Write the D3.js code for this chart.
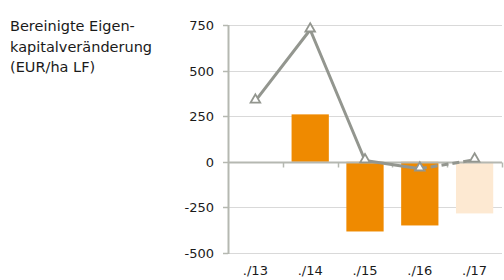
<!DOCTYPE html>
<html>
<head>
<meta charset="utf-8">
<script src="https://cdn.jsdelivr.net/npm/d3@7"></script>
<style>
  body { margin: 0; background: #fff; }
  svg { display: block; font-family: "DejaVu Sans", Verdana, sans-serif; }
</style>
</head>
<body>
<svg id="chart" width="504" height="280"></svg>
<script>
// data
const categories = ["./13", "./14", "./15", "./16", "./17"];
const barValues = [null, 260, -382, -349, -283];
const barColors = ["#ef8a00", "#ef8a00", "#ef8a00", "#ef8a00", "#fde9d2"];
const lineValues = [334, 724, 7, -38, 11];
const yTicks = [-500, -250, 0, 250, 500, 750];
const titleLines = ["Bereinigte Eigen-", "kapitalveränderung", "(EUR/ha LF)"];

const svg = d3.select("#chart");
const margin = {left: 228, right: 2, top: 25, bottom: 27};
const W = 504, H = 280;

const x = d3.scaleBand()
  .domain(categories)
  .range([margin.left, W - margin.right])
  .paddingInner(0.32)
  .paddingOuter(0.16);

const y = d3.scaleLinear()
  .domain([-500, 750])
  .range([H - margin.bottom, margin.top]);

// gridlines
svg.append("g")
  .selectAll("line")
  .data(yTicks)
  .join("line")
    .attr("x1", margin.left)
    .attr("x2", W - margin.right)
    .attr("y1", d => Math.round(y(d)) + 0.5)
    .attr("y2", d => Math.round(y(d)) + 0.5)
    .attr("stroke", "#d9d9d9")
    .attr("stroke-width", 1);

// y tick labels
svg.append("g")
  .selectAll("text")
  .data(yTicks)
  .join("text")
    .attr("x", 214)
    .attr("y", d => y(d) + 5)
    .attr("text-anchor", "end")
    .attr("font-size", 13)
    .attr("fill", "#1a1a1a")
    .text(d => d);

// y tick marks
svg.append("g")
  .selectAll("line")
  .data(yTicks)
  .join("line")
    .attr("x1", margin.left - 5)
    .attr("x2", margin.left)
    .attr("y1", d => Math.round(y(d)) + 0.5)
    .attr("y2", d => Math.round(y(d)) + 0.5)
    .attr("stroke", "#b5b8b1")
    .attr("stroke-width", 1.5);

// bars
svg.append("g")
  .selectAll("rect")
  .data(categories.map((c, i) => ({c, v: barValues[i], col: barColors[i]})).filter(d => d.v != null))
  .join("rect")
    .attr("x", d => x(d.c))
    .attr("width", x.bandwidth())
    .attr("y", d => y(Math.max(0, d.v)))
    .attr("height", d => Math.abs(y(d.v) - y(0)))
    .attr("fill", d => d.col);

// y axis line
svg.append("line")
  .attr("x1", margin.left + 0.5).attr("x2", margin.left + 0.5)
  .attr("y1", y(750)).attr("y2", y(-500) + 1)
  .attr("stroke", "#b5b8b1").attr("stroke-width", 2);

// zero line with category ticks
const y0 = Math.round(y(0)) + 0.5;
svg.append("line")
  .attr("x1", margin.left).attr("x2", W - margin.right)
  .attr("y1", y0).attr("y2", y0)
  .attr("stroke", "#b5b8b1").attr("stroke-width", 2);

const step = x.step();
svg.append("g")
  .selectAll("line")
  .data(categories.slice(1).concat(["end"]))
  .join("line")
    .attr("x1", (d, i) => Math.round(margin.left + step * (i + 1)) + 0.5)
    .attr("x2", (d, i) => Math.round(margin.left + step * (i + 1)) + 0.5)
    .attr("y1", y0)
    .attr("y2", y0 + 5)
    .attr("stroke", "#b5b8b1")
    .attr("stroke-width", 1.5);

// x labels
svg.append("g")
  .selectAll("text")
  .data(categories)
  .join("text")
    .attr("x", d => x(d) + x.bandwidth() / 2)
    .attr("y", 275)
    .attr("text-anchor", "middle")
    .attr("font-size", 13)
    .attr("fill", "#1a1a1a")
    .text(d => d);

// line series: solid up to ./16, dashed to ./17
const pts = categories.map((c, i) => [x(c) + x.bandwidth() / 2, y(lineValues[i])]);
const line = d3.line();
svg.append("path")
  .attr("d", line(pts.slice(0, 4)))
  .attr("fill", "none")
  .attr("stroke", "#93968f")
  .attr("stroke-width", 3)
  .attr("stroke-linejoin", "round");
svg.append("path")
  .attr("d", line(pts.slice(3)))
  .attr("fill", "none")
  .attr("stroke", "#93968f")
  .attr("stroke-width", 3)
  .attr("stroke-dasharray", "7,4");

// triangle markers
const tri = d3.symbol().type(d3.symbolTriangle).size(40);
svg.append("g")
  .selectAll("path")
  .data(pts)
  .join("path")
    .attr("d", tri)
    .attr("transform", d => `translate(${d[0]},${d[1] - 1})`)
    .attr("fill", "#fff")
    .attr("stroke", "#93968f")
    .attr("stroke-width", 1.8);

// title
svg.append("text")
  .attr("font-size", 14.5)
  .attr("fill", "#1a1a1a")
  .selectAll("tspan")
  .data(titleLines)
  .join("tspan")
    .attr("x", 10)
    .attr("y", (d, i) => 31 + i * 20.5)
    .text(d => d);
</script>
</body>
</html>
